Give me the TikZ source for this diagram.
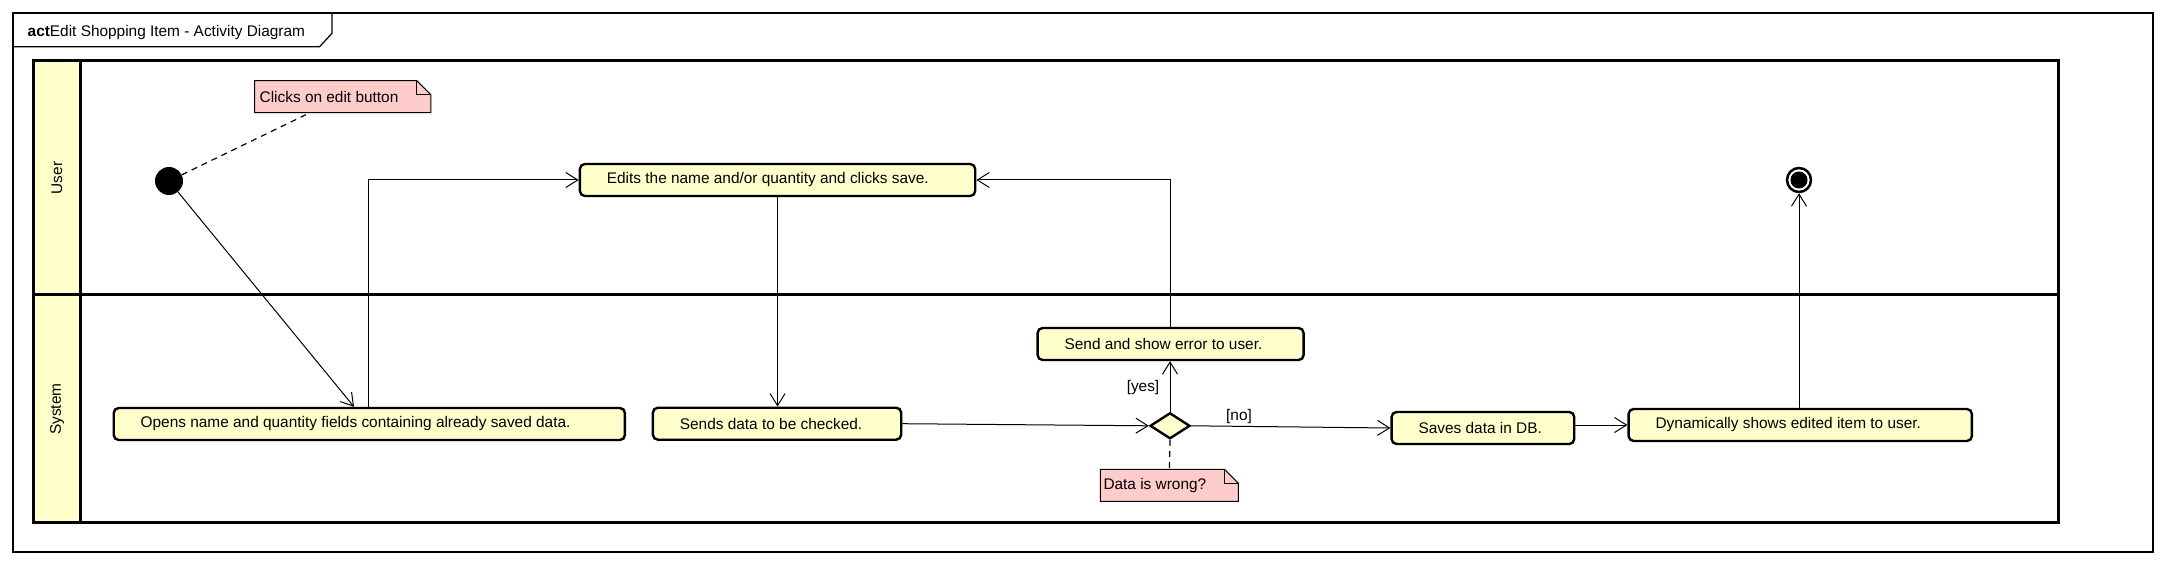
\documentclass[tikz,border=0pt]{standalone}
\usepackage{fontspec}
\setmainfont{Liberation Sans}
\usetikzlibrary{arrows.meta,shapes.geometric,calc}
\definecolor{actfill}{HTML}{FFFFCC}
\definecolor{notefill}{HTML}{FFCCCC}
\begin{document}
\begin{tikzpicture}[x=1pt,y=-1pt,
  every node/.style={font=\fontsize{15.4}{18}\selectfont},
  actbox/.style={draw, line width=2.4pt, rounded corners=5pt, fill=actfill, minimum height=32pt, inner xsep=27pt, inner ysep=0pt, anchor=west},
  notebox/.style={fill=notefill, minimum height=31.6pt, inner ysep=0pt, anchor=north west},
  noteline/.style={line width=1pt},
  flow/.style={line width=1pt, -{Straight Barb[length=12pt,width=15pt,line width=1pt]}},
  notelink/.style={line width=1.2pt, dash pattern=on 6pt off 5pt},
  lane/.style={line width=3pt},
  frameline/.style={line width=1.2pt},
]
\useasboundingbox (0,0) rectangle (2166,564);

% outer frame and title tab
\draw[frameline] (13,13) rectangle (2153,552);
\draw[frameline] (13,46.7) -- (319.6,46.7) -- (332,33.3) -- (332,13);
\node[anchor=base west, inner sep=0pt] (title) at (27.5,36.7) {\textbf{act}Edit Shopping Item - Activity Diagram};

% swimlanes
\draw[lane, fill=actfill] (33.5,61) rectangle (80.4,522);
\draw[lane] (33.5,61) rectangle (2058,522);
\draw[lane] (33.5,294) -- (2058,294);
\node[rotate=90] (luser) at (57,178) {User};
\node[rotate=90] (lsys) at (57,409) {System};

% nodes
\node[circle, fill=black, minimum size=28pt, inner sep=0pt] (init) at (169,181) {};
\node[circle, draw, line width=2.5pt, fill=white, minimum size=24pt, inner sep=0pt] (final) at (1799,180) {};
\node[circle, fill=black, minimum size=17pt, inner sep=0pt] (finalin) at (final) {};

\node[actbox] (edits) at (578.7,180) {\makebox[341.3pt][l]{Edits the name and/or quantity and clicks save.}};
\node[actbox] (opens) at (112.5,424) {\makebox[457.2pt][l]{Opens name and quantity fields containing already saved data.}};
\node[actbox] (sends) at (651.7,423.7) {\makebox[194.3pt][l]{Sends data to be checked.}};
\node[actbox] (err) at (1036.4,344) {\makebox[212pt][l]{Send and show error to user.}};
\node[actbox] (saves) at (1390.4,428) {\makebox[128.6pt][l]{Saves data in DB.}};
\node[actbox] (dyn) at (1627.4,425) {\makebox[289.3pt][l]{Dynamically shows edited item to user.}};
\node[diamond, draw, line width=2.4pt, fill=actfill, minimum width=40pt, minimum height=26pt, inner sep=0pt] (dec) at (1170,425.8) {};

% notes
\node[notebox, inner xsep=5pt] (n1) at (254.5,80.7) {\makebox[166pt][l]{Clicks on edit button}};
\fill[white] ([xshift=-14pt]n1.north east) -- (n1.north east) -- ([yshift=-14pt]n1.north east) -- cycle;
\draw[noteline] (n1.north west) -- ([xshift=-14pt]n1.north east) -- ([yshift=-14pt]n1.north east) -- (n1.south east) -- (n1.south west) -- cycle;
\draw[noteline] ([xshift=-14pt]n1.north east) -- ([xshift=-14pt,yshift=-14pt]n1.north east) -- ([yshift=-14pt]n1.north east);

\node[notebox, inner xsep=3pt] (n2) at (1100.3,469.3) {\makebox[131.7pt][l]{Data is wrong?}};
\fill[white] ([xshift=-14pt]n2.north east) -- (n2.north east) -- ([yshift=-14pt]n2.north east) -- cycle;
\draw[noteline] (n2.north west) -- ([xshift=-14pt]n2.north east) -- ([yshift=-14pt]n2.north east) -- (n2.south east) -- (n2.south west) -- cycle;
\draw[noteline] ([xshift=-14pt]n2.north east) -- ([xshift=-14pt,yshift=-14pt]n2.north east) -- ([yshift=-14pt]n2.north east);

% guard labels
\node (yes) at (1143,387.5) {[yes]};
\node (no) at (1239,417) {[no]};

% connectors
\draw[notelink] (init) -- ([xshift=55.5pt]n1.south west);
\draw[notelink] (dec.south) -- (n2.north);
\draw[flow] (init) -- ([xshift=241.5pt]opens.north west);
\draw[flow] ([xshift=255.8pt]opens.north west) |- (edits.west);
\draw[flow] (edits.south) -- (edits.south |- sends.north);
\draw[flow] (sends.east) -- (dec.west);
\draw[flow] (dec.east) -- (saves.west);
\draw[flow] (dec.north) -- (dec.north |- err.south);
\draw[flow] (err.north) |- (edits.east);
\draw[flow] (saves.east |- dyn.west) -- (dyn.west);
\draw[flow] (dyn.north -| final) -- (final.south);
\end{tikzpicture}
\end{document}
